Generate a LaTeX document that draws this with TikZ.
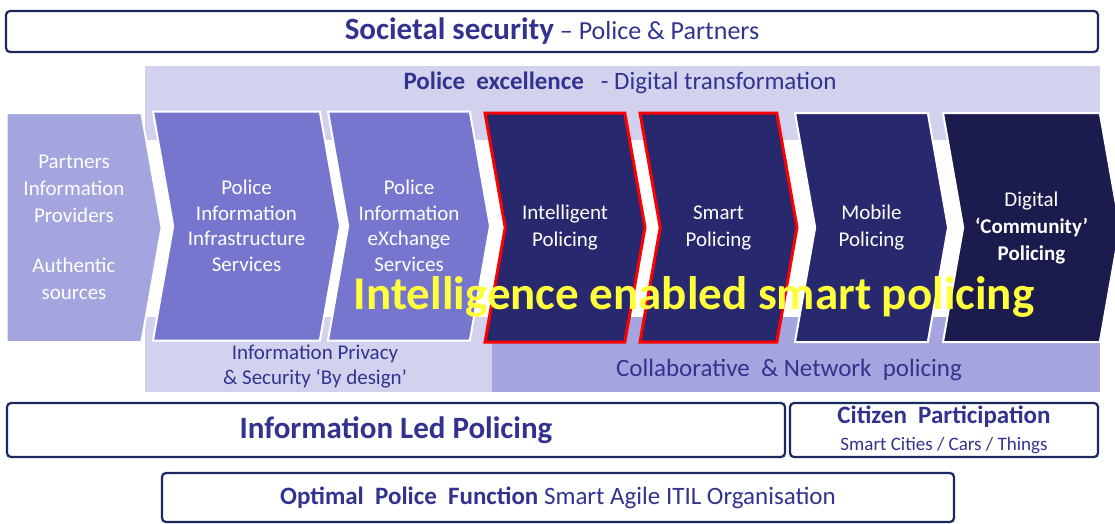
\documentclass[tikz,border=0pt]{standalone}
\usepackage{fontspec}
\setmainfont{Carlito}
\usetikzlibrary{shapes.symbols}
\definecolor{navytxt}{HTML}{32338F}
\definecolor{boxline}{HTML}{1B2A5E}
\definecolor{lavlight}{HTML}{D2D2EF}
\definecolor{lavmid}{HTML}{A4A4DE}
\definecolor{chevmid}{HTML}{7676CE}
\definecolor{chevdark}{HTML}{28286F}
\definecolor{chevdarker}{HTML}{1C1B4D}
\definecolor{hiyellow}{HTML}{FFFF3C}
\tikzset{
framebox/.style={rectangle, draw=boxline, line width=2.2pt, rounded corners=4pt, fill=white, inner sep=0pt, text=navytxt},
band/.style={rectangle, draw=none, inner sep=0pt},
bandtext/.style={text=navytxt, inner sep=0pt, align=center, font=\fontsize{25}{28}\selectfont},
chevron/.style={signal, signal to=east, signal from=west, signal pointer angle=160, draw=white, line width=2pt, text=white, align=center, inner sep=0pt, minimum height=229pt, font=\fontsize{21}{27}\selectfont},
redchevron/.style={chevron, draw=red, line width=3pt},
}
\begin{document}
\begin{tikzpicture}[x=1pt,y=-1pt]
\useasboundingbox (0,0) rectangle (1115,523);
% bands behind the chevrons
\node[band, fill=lavlight, minimum width=955, minimum height=74] (excband) at (622.5,103) {};
\node[band, fill=lavlight, minimum width=347, minimum height=75] (privband) at (318.5,354.5) {};
\node[band, fill=lavmid, minimum width=608, minimum height=75] (collband) at (796,354.5) {};
\node[bandtext] (exctxt) at (620,83) {\textbf{Police~ excellence}~~ - Digital transformation};
\node[bandtext, font=\fontsize{21}{25}\selectfont] (privtxt) at (315,367) {Information Privacy\\\& Security ‘By design’};
\node[bandtext] (colltxt) at (789,370) {Collaborative~ \& Network~ policing};

% chevrons
\node[chevron, signal from=nowhere, fill=lavmid, minimum width=155pt] (partners) at (74,227.5) {Partners\\Information\\Providers\\[23pt]Authentic\\sources};
\node[chevron, fill=chevmid, minimum width=187pt, font=\fontsize{21}{25.5}\selectfont] (pinfra) at (246.5,226) {Police\\Information\\Infrastructure\\Services};
\node[chevron, fill=chevmid, minimum width=162pt, font=\fontsize{21}{25.5}\selectfont] (pixs) at (409,226) {Police\\Information\\eXchange\\Services};
\node[redchevron, fill=chevdark, minimum width=160pt] (intpol) at (565,227.5) {Intelligent\\Policing};
\node[redchevron, fill=chevdark, minimum width=157pt] (smartpol) at (718.5,227.5) {Smart\\Policing};
\node[chevron, fill=chevdark, minimum width=153pt] (mobpol) at (871.5,227.5) {Mobile\\Policing};
\node[chevron, fill=chevdarker, minimum width=177pt] (digpol) at (1031.5,227.5) {Digital\\\textbf{‘Community’}\\\textbf{Policing}};

\node[text=hiyellow, inner sep=0pt, font=\fontsize{47}{52}\selectfont\bfseries] (slogan) at (694,297) {Intelligence enabled smart policing};

% frames
\node[framebox, minimum width=1092, minimum height=41, font=\fontsize{26}{30}\selectfont] (societal) at (552,31.5) {{\fontsize{31}{34}\selectfont\bfseries Societal security} – Police \& Partners};
\node[framebox, minimum width=778, minimum height=54, font=\fontsize{31}{34}\selectfont\bfseries] (ilp) at (396,430) {Information Led Policing};
\node[framebox, minimum width=308, minimum height=54, align=center, font=\fontsize{19}{27}\selectfont] (citizen) at (944,430) {{\fontsize{25}{27}\selectfont\bfseries Citizen~ Participation}\\Smart Cities / Cars / Things};
\node[framebox, minimum width=792, minimum height=49, font=\fontsize{25}{28}\selectfont] (optimal) at (558,497.5) {\textbf{Optimal~ Police~ Function} Smart Agile ITIL Organisation};
\end{tikzpicture}
\end{document}
